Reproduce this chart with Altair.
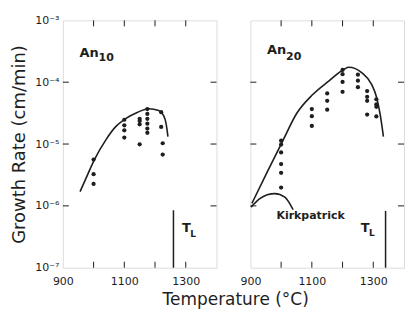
import altair as alt
import pandas as pd

FONT = "DejaVu Sans"
INK = "#1e1e1e"

# ---------------- data ----------------
# An10 measured growth rates
an10_T = [1000, 1000, 1000,
          1100, 1100, 1100, 1100,
          1150, 1150, 1150, 1150,
          1175, 1175, 1175, 1175, 1175, 1175,
          1220, 1220, 1225, 1225]
an10_rate = [5.62e-6, 3.26e-6, 2.26e-6,
             2.47e-5, 2.01e-5, 1.67e-5, 1.27e-5,
             2.56e-5, 2.36e-5, 2.08e-5, 9.9e-6,
             3.68e-5, 3.07e-5, 2.56e-5, 2.13e-5, 1.78e-5, 1.52e-5,
             3.27e-5, 1.89e-5, 1.03e-5, 6.75e-6]
# An10 fitted curve
an10_curve_T = [956, 981, 1004, 1040, 1072, 1104, 1142, 1180, 1212, 1228, 1236, 1242]
an10_curve_rate = [1.70e-6, 3.24e-6, 5.75e-6, 1.17e-5, 1.91e-5, 2.57e-5,
                   3.24e-5, 3.72e-5, 3.47e-5, 2.88e-5, 2.14e-5, 1.32e-5]

# An20 measured growth rates
an20_T = [1000, 1000, 1000, 1000, 1000, 1000,
          1100, 1100, 1100,
          1150, 1150, 1150,
          1200, 1200, 1200, 1200,
          1250, 1250, 1250,
          1280, 1280, 1280, 1280,
          1310, 1310, 1310, 1310]
an20_rate = [1.135e-5, 9.8e-6, 7.3e-6, 4.74e-6, 3.42e-6, 1.98e-6,
             3.68e-5, 2.82e-5, 1.96e-5,
             6.59e-5, 5.0e-5, 3.6e-5,
             1.58e-4, 1.35e-4, 1.01e-4, 7.0e-5,
             1.32e-4, 1.06e-4, 8.3e-5,
             7.2e-5, 5.8e-5, 5.0e-5, 3.0e-5,
             5.3e-5, 4.4e-5, 4.0e-5, 2.8e-5]
# An20 fitted curve
an20_curve_T = [905, 955, 1007, 1050, 1103, 1156, 1205, 1220, 1263, 1295, 1311, 1322, 1333]
an20_curve_rate = [1.10e-6, 3.55e-6, 1.17e-5, 3.09e-5, 6.31e-5, 1.05e-4, 1.62e-4,
                   1.74e-4, 1.41e-4, 9.12e-5, 5.62e-5, 3.09e-5, 1.32e-5]
# Kirkpatrick curve (An20 panel)
kirk_T = [902, 932, 955, 980, 1012, 1039]
kirk_rate = [9.55e-7, 1.32e-6, 1.51e-6, 1.58e-6, 1.38e-6, 8.7e-7]

# liquidus temperatures (vertical marker lines)
liquidus_T = [1260, 1340]
liquidus_top = [8.5e-7, 8.3e-7]

# axes
x_domain = [900, 1400]
x_labels = [900, 1100, 1300]
x_minor = [1000, 1100, 1200, 1300]
y_domain = [1e-7, 1e-3]
y_ticks = [1e-7, 1e-6, 1e-5, 1e-4, 1e-3]
y_tick_labels = ["10⁻⁷", "10⁻⁶", "10⁻⁵", "10⁻⁴", "10⁻³"]
y_minor = [1e-6, 1e-5, 1e-4]

# annotation anchors (data coordinates)
an_main = ["An", "An"]
an_sub = ["10", "20"]
an_main_pos = [(954, 2.6e-4), (954, 2.9e-4)]
an_sub_pos = [(1016, 2.17e-4), (1016, 2.25e-4)]
tl_main_pos = [(1288, 3.85e-7), (1259, 3.85e-7)]
tl_sub_pos = [(1315, 3.09e-7), (1286, 3.24e-7)]
kirk_label = "Kirkpatrick"
kirk_label_pos = (1096, 6.17e-7)

W, H = 154, 248
TICK = 6

lookup = "{" + ",".join(f"'{-7 + i}':'{lab}'" for i, lab in enumerate(y_tick_labels)) + "}"
label_expr = f"{lookup}[''+round(log(datum.value)/LN10)]"

xscale = alt.Scale(domain=x_domain, nice=False, zero=False)
yscale = alt.Scale(type="log", domain=y_domain, nice=False)

x_axis = alt.Axis(values=x_labels, format="d", ticks=False, domain=False, grid=False,
                  title=None, labelFontSize=11, labelPadding=8, labelFlush=False,
                  labelFont=FONT, labelColor=INK)
y_axis_left = alt.Axis(values=y_ticks, labelExpr=label_expr, ticks=False, domain=False,
                       grid=False, title="Growth Rate (cm/min)", titleFontSize=18,
                       titleFontWeight="normal", titleFont=FONT, titleColor=INK,
                       titlePadding=6, labelFontSize=11, labelPadding=4,
                       minExtent=28, maxExtent=28,
                       labelFont=FONT, labelColor=INK, labelFlush=False)


def panel(pts_T, pts_rate, curves, liq_T, liq_top, idx, left, extra_text=None):
    X = alt.X("T:Q", scale=xscale, axis=x_axis)
    Y = alt.Y("rate:Q", scale=yscale, axis=(y_axis_left if left else None))

    pts = alt.Chart(pd.DataFrame({"T": pts_T, "rate": pts_rate})).mark_circle(
        size=18, color=INK, opacity=1).encode(x=X, y=Y)
    layers = [pts]
    for cT, cR in curves:
        layers.append(alt.Chart(pd.DataFrame({"T": cT, "rate": cR})).mark_line(
            color=INK, strokeWidth=1.6, interpolate="monotone").encode(x=X, y=Y))

    liq = pd.DataFrame({"T": [liq_T], "rate": [liq_top], "rate2": [y_domain[0]]})
    layers.append(alt.Chart(liq).mark_rule(color=INK, strokeWidth=1.5).encode(
        x=X, y=Y, y2="rate2:Q"))

    xt = pd.DataFrame({"T": x_minor})
    yt = pd.DataFrame({"rate": y_minor})
    layers.append(alt.Chart(xt).mark_rule(color=INK, strokeWidth=1).encode(
        x=X, y=alt.value(H), y2=alt.value(H - TICK)))
    layers.append(alt.Chart(xt).mark_rule(color=INK, strokeWidth=1).encode(
        x=X, y=alt.value(0), y2=alt.value(TICK)))
    layers.append(alt.Chart(yt).mark_rule(color=INK, strokeWidth=1).encode(
        y=Y, x=alt.value(0), x2=alt.value(TICK)))
    layers.append(alt.Chart(yt).mark_rule(color=INK, strokeWidth=1).encode(
        y=Y, x=alt.value(W), x2=alt.value(W - TICK)))

    def txt(s, pos, size, align="left"):
        d = pd.DataFrame({"T": [pos[0]], "rate": [pos[1]], "label": [s]})
        return alt.Chart(d).mark_text(align=align, baseline="alphabetic", fontSize=size,
                                      fontWeight="bold", font=FONT, color=INK).encode(
            x=X, y=Y, text="label:N")

    layers.append(txt(an_main[idx], an_main_pos[idx], 13))
    layers.append(txt(an_sub[idx], an_sub_pos[idx], 11))
    layers.append(txt("T", tl_main_pos[idx], 13))
    layers.append(txt("L", tl_sub_pos[idx], 9))
    if extra_text:
        layers.append(txt(extra_text[0], extra_text[1], 11, align="center"))

    return alt.layer(*layers).properties(width=W, height=H)


left = panel(an10_T, an10_rate, [(an10_curve_T, an10_curve_rate)],
             liquidus_T[0], liquidus_top[0], 0, True)
right = panel(an20_T, an20_rate, [(an20_curve_T, an20_curve_rate), (kirk_T, kirk_rate)],
              liquidus_T[1], liquidus_top[1], 1, False,
              extra_text=(kirk_label, kirk_label_pos))

chart = alt.hconcat(
    left, right, spacing=34, bounds="flush",
    title=alt.TitleParams(text="Temperature (°C)", orient="bottom", anchor="middle",
                          fontSize=17, fontWeight="normal", font=FONT, color=INK,
                          offset=5, dx=28),
    padding={"left": 2, "top": 5, "right": 0, "bottom": 0},
).configure_view(stroke=INK, strokeWidth=1.5).configure(background="white")

chart.save("out.html", embed_options={"renderer": "svg", "actions": False})
